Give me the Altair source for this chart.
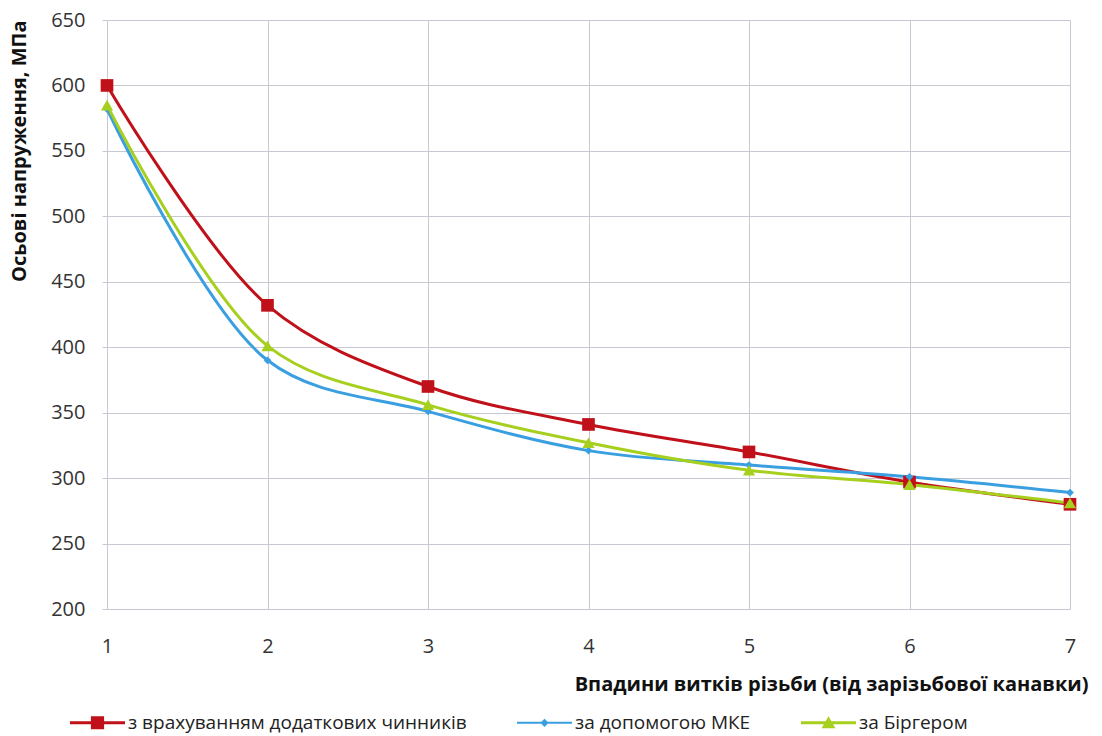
import altair as alt
import pandas as pd

x_vals = [1, 2, 3, 4, 5, 6, 7]
red_vals = [600, 432, 370, 341, 320, 297, 280]
blue_vals = [582, 390, 351, 321, 310, 301, 289]
green_vals = [585, 401, 356, 327, 306, 295, 281]

series_names = ["з врахуванням додаткових чинників", "за допомогою МКЕ", "за Біргером"]
series_colors = ["#c0101a", "#3a9fe0", "#a6cf1e"]
series_values = [red_vals, blue_vals, green_vals]

rows = []
for name, vals in zip(series_names, series_values):
    for xv, yv in zip(x_vals, vals):
        rows.append({"x": xv, "y": yv, "series": name})
df = pd.DataFrame(rows)

FONT = "Open Sans"

color_scale = alt.Scale(domain=series_names, range=series_colors)

legend_paths = [
    "M-1,-0.055 H1 V0.055 H-1 Z M-0.24,-0.24 H0.24 V0.24 H-0.24 Z",
    "M-1,-0.035 H1 V0.035 H-1 Z M0,-0.15 L0.15,0 L0,0.15 L-0.15,0 Z",
    "M-1,-0.055 H1 V0.055 H-1 Z M0,-0.24 L0.25,0.2 L-0.25,0.2 Z",
]

legend_spec = alt.Legend(title=None, orient="none", direction="horizontal",
                         legendX=-37, legendY=675, symbolSize=3025,
                         labelFontSize=19, labelColor="#222", labelFont=FONT,
                         labelLimit=0, columnPadding=50, symbolStrokeWidth=0,
                         symbolOpacity=1, labelOffset=3)

xenc = alt.X("x:Q", scale=alt.Scale(domain=[1, 7], nice=False),
             axis=alt.Axis(values=x_vals, format="d",
                           title="Впадини витків різьби (від зарізьбової канавки)",
                           titleAnchor="end", titleX=981, titleY=65, titleFontWeight="bold",
                           titleFontSize=20, titleColor="#111", labelFontSize=20,
                           labelColor="#333", labelPadding=27, tickSize=0, domain=False,
                           labelFlush=False,
                           gridColor="#c6c8d2", labelFont=FONT, titleFont=FONT))
yenc = alt.Y("y:Q", scale=alt.Scale(domain=[200, 650], nice=False),
             axis=alt.Axis(values=list(range(200, 651, 50)), title="Осьові напруження, МПа",
                           titleAnchor="end", titleFontWeight="bold", titleFontSize=20,
                           titleColor="#111", titleX=-78, titleY=0, titleAlign="right",
                           labelFontSize=20, labelColor="#333", labelPadding=17, tickSize=5,
                           tickColor="#c6c8d2", domain=False, gridColor="#c6c8d2",
                           labelFont=FONT, titleFont=FONT))

lines = alt.Chart(df).mark_line(strokeWidth=3, interpolate="catmull-rom").encode(
    x=xenc, y=yenc,
    color=alt.Color("series:N", scale=color_scale, legend=legend_spec),
    detail="series:N",
)

shapes = ["square", "diamond", "triangle-up"]
sizes = [160, 60, 150]
point_layers = []
for name, col, shp, sz in zip(series_names, series_colors, shapes, sizes):
    point_layers.append(
        alt.Chart(df).transform_filter(alt.datum.series == name).mark_point(
            filled=True, shape=shp, size=sz, color=col, opacity=1, strokeWidth=0
        ).encode(x="x:Q", y="y:Q")
    )

legend_layer = alt.Chart(df).mark_point(
    filled=True, strokeWidth=0, opacity=0
).encode(
    x="x:Q", y="y:Q",
    color=alt.Color("series:N", scale=color_scale, legend=legend_spec),
    shape=alt.Shape("series:N", scale=alt.Scale(domain=series_names, range=legend_paths),
                    legend=legend_spec),
)

chart = alt.layer(lines, *point_layers, legend_layer).properties(
    width=963, height=589,
    autosize=alt.AutoSizeParams(type="none"),
    padding={"left": 107, "top": 20, "right": 32, "bottom": 127},
    background="white",
).configure_view(stroke=None)

chart.save("out.html", embed_options={"renderer": "svg", "actions": False})
